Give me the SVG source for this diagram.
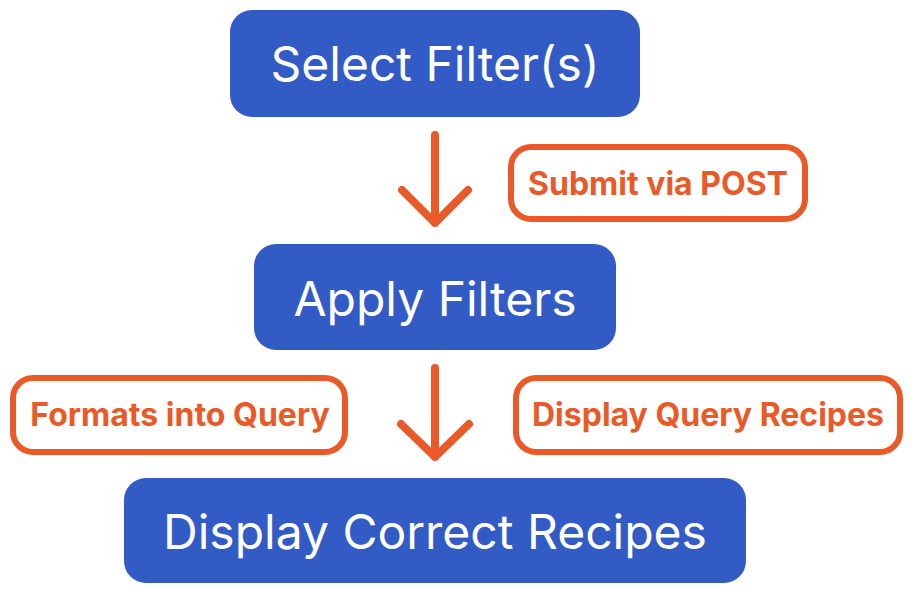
<svg xmlns="http://www.w3.org/2000/svg" width="915" height="594" viewBox="0 0 915 594">
  <style>
    .step rect { fill: #335BC6; }
    .step text { fill: #ffffff; font-family: Inter, "Noto Sans", "Liberation Sans", sans-serif; font-size: 48px; text-anchor: middle; }
    .note rect { fill: #ffffff; stroke: #EA5A28; stroke-width: 6; }
    .note text { fill: #EA5A28; font-family: Inter, "Noto Sans", "Liberation Sans", sans-serif; font-size: 32px; font-weight: 700; text-anchor: middle; }
    .arrow { fill: none; stroke: #EA5A28; stroke-width: 8; stroke-linecap: round; stroke-linejoin: round; }
  </style>
  <rect width="915" height="594" fill="#ffffff"/>

  <g id="select-filters" class="step">
    <rect x="230" y="10" width="410" height="107" rx="22"/>
    <text x="435" y="81">Select Filter(s)</text>
  </g>

  <g id="apply-filters" class="step">
    <rect x="254" y="244" width="362" height="106" rx="22"/>
    <text x="435" y="316">Apply Filters</text>
  </g>

  <g id="display-correct-recipes" class="step">
    <rect x="124" y="478" width="622" height="105" rx="22"/>
    <text x="435" y="549">Display Correct Recipes</text>
  </g>

  <g id="submit-via-post" class="note">
    <rect x="511" y="147" width="294" height="72" rx="20"/>
    <text x="658" y="195">Submit via POST</text>
  </g>

  <g id="formats-into-query" class="note">
    <rect x="13" y="378" width="332" height="74" rx="20"/>
    <text x="180" y="426">Formats into Query</text>
  </g>

  <g id="display-query-recipes" class="note">
    <rect x="516" y="378" width="384" height="74" rx="20"/>
    <text x="708" y="426">Display Query Recipes</text>
  </g>

  <g id="connectors">
    <path class="arrow" d="M435 135 V223 M402 190 L435 223 L468 190"/>
    <path class="arrow" d="M435 368 V457 M401 424 L435 457 L469 424"/>
  </g>
</svg>
